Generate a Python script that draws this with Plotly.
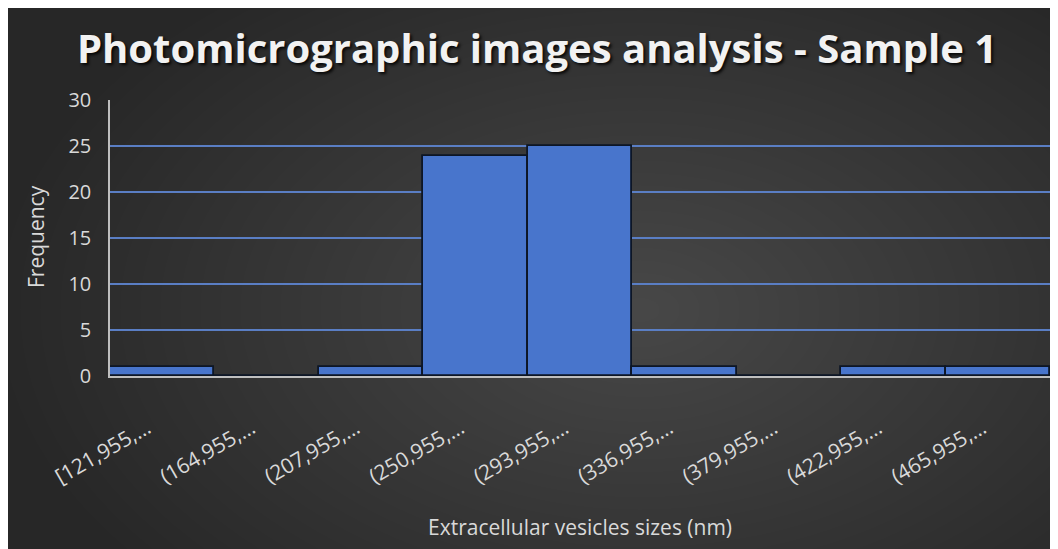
import plotly.graph_objects as go

# ---- data ----
categories = ["[121,955,…", "(164,955,…", "(207,955,…", "(250,955,…", "(293,955,…",
              "(336,955,…", "(379,955,…", "(422,955,…", "(465,955,…"]
frequency = [1, 0, 1, 24, 25, 1, 0, 1, 1]
title_text = "Photomicrographic images analysis - Sample 1"
x_title = "Extracellular vesicles sizes (nm)"
y_title = "Frequency"
y_ticks = [0, 5, 10, 15, 20, 25, 30]

# page is rendered with the default 8px body margin -> figure offset by 8px
OFF = 8
W, H = 1050, 541
ML, MR, MT, MB = 102, 8, 92, 173
PW, PH = W - ML - MR, H - MT - MB


def px_x(p):  # page pixel -> paper x
    return (p - OFF - ML) / PW


def px_y(p):  # page pixel -> paper y
    return (H - MB - (p - OFF)) / PH


shapes = []
shapes.append(dict(type="rect", xref="paper", yref="paper", layer="below",
                   x0=px_x(OFF), x1=px_x(OFF + W), y0=px_y(OFF + H), y1=px_y(OFF),
                   fillcolor="#272727", line=dict(width=0)))
# radial light gradient approximation
cx, cy = 640, 310
N = 32
for i in range(N):
    k = 1 - i / N
    rx, ry = 640 * k, 400 * k
    shapes.append(dict(type="circle", xref="paper", yref="paper", layer="below",
                       x0=px_x(cx - rx), x1=px_x(cx + rx),
                       y0=px_y(cy + ry), y1=px_y(cy - ry),
                       fillcolor="rgba(255,255,255,0.0085)", line=dict(width=0)))

fig = go.Figure()
fig.add_trace(go.Bar(
    x=categories, y=frequency,
    marker=dict(color="#4875cc", line=dict(color="#0d1626", width=1.8)),
))

font_family = "Open Sans, Lato, sans-serif"
fig.update_layout(
    width=W, height=H,
    margin=dict(l=ML, r=MR, t=MT, b=MB, pad=0),
    paper_bgcolor="#272727",
    plot_bgcolor="rgba(0,0,0,0)",
    bargap=0,
    showlegend=False,
    shapes=shapes,
    font=dict(family=font_family, color="#d9d9d9"),
    title=dict(text="<b>" + title_text + "</b>", x=(537 - OFF) / W, xanchor="center",
               y=1 - (49 - OFF) / H, yanchor="middle",
               font=dict(size=40, color="#f2f2f2", family=font_family,
                         shadow="2px 2px 3px rgba(0,0,0,0.85)")),
    xaxis=dict(
        type="category",
        showgrid=False,
        showline=True, linecolor="#bfbfbf", linewidth=1.5,
        ticks="", tickangle=-30,
        tickfont=dict(size=21, color="#d9d9d9"),
        ticklabelstandoff=30,
        ticklabelshift=-15,
        zeroline=False,
    ),
    yaxis=dict(
        range=[0, 30.05],
        tickvals=y_ticks,
        showgrid=True, gridcolor="#5a7ec4", gridwidth=1.8,
        showline=True, linecolor="#bfbfbf", linewidth=1.5,
        ticks="", tickfont=dict(size=20, color="#d9d9d9"),
        ticklabelstandoff=13,
        zeroline=False,
    ),
    annotations=[
        dict(text=x_title, xref="paper", yref="paper",
             x=px_x(580), y=px_y(527), xanchor="center", yanchor="middle",
             showarrow=False, font=dict(size=21, color="#d9d9d9")),
        dict(text=y_title, xref="paper", yref="paper",
             x=px_x(36), y=px_y(237), xanchor="center", yanchor="middle",
             textangle=-90, showarrow=False, font=dict(size=21, color="#d9d9d9")),
    ],
)

fig.write_html("out.html")
